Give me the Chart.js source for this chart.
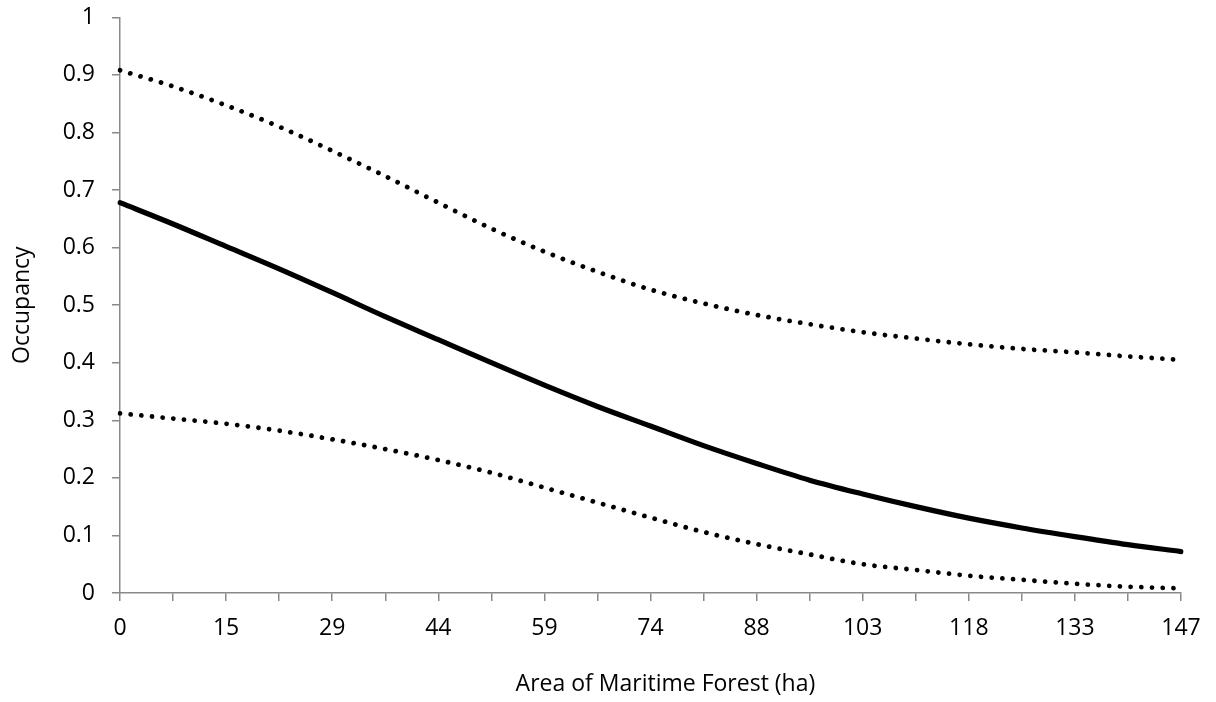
<!DOCTYPE html>
<html>
<head>
<meta charset="utf-8">
<script src="https://cdn.jsdelivr.net/npm/chart.js@4.4.1/dist/chart.umd.min.js"></script>
<style>
  html, body { margin: 0; padding: 0; background: #fff; }
  #wrap { width: 1216px; height: 702px; }
</style>
</head>
<body>
<div id="wrap"><canvas id="occChart" width="1216" height="702"></canvas></div>
<script>
/* ==========================================================
   DATA
========================================================== */
const areaLabels = ["0", "7", "15", "22", "29", "37", "44", "51", "59", "66", "74",
                    "81", "88", "96", "103", "110", "118", "125", "133", "140", "147"];

const occupancy = [0.678, 0.641, 0.602, 0.563, 0.522, 0.480, 0.440, 0.400, 0.361, 0.324, 0.290,
                   0.256, 0.225, 0.196, 0.172, 0.150, 0.130, 0.113, 0.098, 0.084, 0.072];

const upperCI = [0.908, 0.880, 0.847, 0.810, 0.768, 0.724, 0.678, 0.633, 0.593, 0.558, 0.527,
                 0.503, 0.483, 0.467, 0.453, 0.442, 0.432, 0.424, 0.418, 0.411, 0.405];

const lowerCI = [0.312, 0.303, 0.294, 0.282, 0.267, 0.250, 0.231, 0.209, 0.183, 0.157, 0.131,
                 0.106, 0.085, 0.067, 0.050, 0.040, 0.030, 0.023, 0.016, 0.011, 0.008];

const yTicks = [0, 0.1, 0.2, 0.3, 0.4, 0.5, 0.6, 0.7, 0.8, 0.9, 1];

/* ==========================================================
   CHART
========================================================== */
const axisGray = "#898989";
const font = { family: "'Open Sans', sans-serif", size: 23 };

const dotted = {
    borderColor: "#000",
    borderWidth: 4.8,
    borderDash: [0.01, 10.7],
    borderCapStyle: "round",
    pointRadius: 0,
    cubicInterpolationMode: "monotone",
    fill: false
};

new Chart(document.getElementById("occChart").getContext("2d"), {
    type: "line",
    data: {
        labels: areaLabels,
        datasets: [
            Object.assign({ label: "Upper", data: upperCI }, dotted),
            Object.assign({ label: "Lower", data: lowerCI }, dotted),
            {
                label: "Occupancy",
                data: occupancy,
                borderColor: "#000",
                borderWidth: 5.2,
                borderCapStyle: "round",
                pointRadius: 0,
                cubicInterpolationMode: "monotone",
                fill: false
            }
        ]
    },
    options: {
        responsive: false,
        animation: false,
        devicePixelRatio: 1,
        layout: { padding: { left: 0, top: 17.3, right: 35, bottom: 0 } },
        plugins: { legend: { display: false }, tooltip: { enabled: false } },
        scales: {
            x: {
                offset: false,
                afterFit: (s) => { s.height = 109; },
                border: { display: true, color: axisGray, width: 1.5 },
                grid: { drawOnChartArea: false, drawTicks: true, tickLength: 8, color: axisGray, lineWidth: 1.5 },
                ticks: {
                    autoSkip: false,
                    maxRotation: 0,
                    color: "#000",
                    font: font,
                    padding: 14,
                    callback: (v, i) => (i % 2 ? "" : areaLabels[i])
                },
                title: {
                    display: true,
                    text: "     Area of Maritime Forest (ha)",
                    color: "#000",
                    font: font,
                    padding: { top: 0, bottom: 4 }
                }
            },
            y: {
                min: 0,
                max: 1,
                afterFit: (s) => {
                    s.width = 120;
                    // let the top label hang over the padding, like the reference
                    s.paddingTop = 0;
                    s.paddingBottom = 0;
                },
                afterBuildTicks: (s) => { s.ticks = yTicks.map((v) => ({ value: v })); },
                border: { display: true, color: axisGray, width: 1.5 },
                grid: { drawOnChartArea: false, drawTicks: true, tickLength: 8, color: axisGray, lineWidth: 1.5 },
                ticks: {
                    color: "#000",
                    font: font,
                    padding: 17,
                    callback: (v) => String(+v.toFixed(1))
                },
                title: {
                    display: true,
                    text: "Occupancy",
                    color: "#000",
                    font: font,
                    padding: { top: 9, bottom: 0 }
                }
            }
        }
    }
});
</script>
</body>
</html>
